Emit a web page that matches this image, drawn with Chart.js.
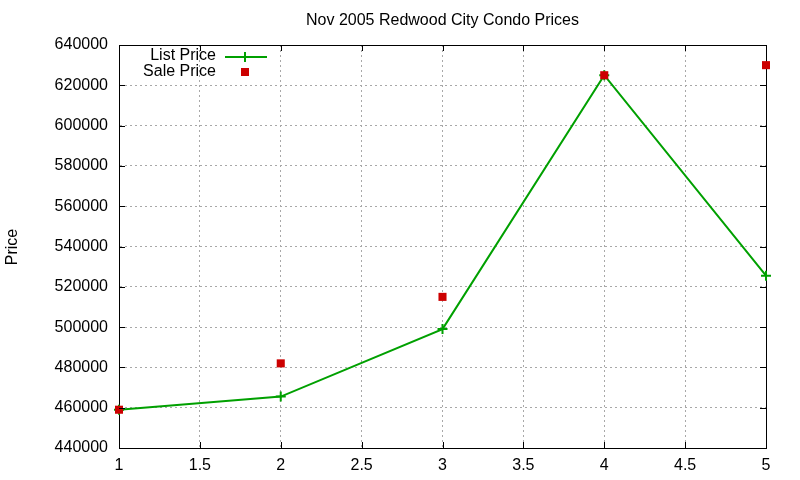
<!DOCTYPE html>
<html><head><meta charset="utf-8">
<script src="https://cdn.jsdelivr.net/npm/chart.js@4"></script>
<style>html,body{margin:0;padding:0;background:#fff}#c{display:block}</style>
</head><body>
<canvas id="c" width="800" height="480"></canvas>
<script>
const xValues = [1, 2, 3, 4, 5];
const listPrice = [459000, 465500, 499000, 625000, 525500];
const salePrice = [459000, 482000, 515000, 625000, 630000];
const chartTitle = 'Nov 2005 Redwood City Condo Prices';
const yTitle = 'Price';
const seriesNames = ['List Price', 'Sale Price'];

const FONT = '"Liberation Sans", Arial, sans-serif';
const GREEN = '#00a000', RED = '#cc0000';

const extras = {
  id: 'extras',
  afterDraw(chart) {
    const ctx = chart.ctx, a = chart.chartArea;
    const xs = chart.scales.x, ys = chart.scales.y;
    ctx.save();
    // inward ticks
    ctx.strokeStyle = '#000'; ctx.lineWidth = 1;
    ctx.beginPath();
    ys.ticks.forEach(t => {
      const y = Math.round(ys.getPixelForValue(t.value)) + 0.5;
      ctx.moveTo(a.left, y); ctx.lineTo(a.left + 6, y);
      ctx.moveTo(a.right, y); ctx.lineTo(a.right - 6, y);
    });
    xs.ticks.forEach(t => {
      const x = Math.round(xs.getPixelForValue(t.value)) + 0.5;
      ctx.moveTo(x, a.bottom); ctx.lineTo(x, a.bottom - 6);
      ctx.moveTo(x, a.top); ctx.lineTo(x, a.top + 6);
    });
    ctx.stroke();
    // title
    ctx.fillStyle = '#000';
    ctx.font = '16px ' + FONT;
    ctx.textAlign = 'center'; ctx.textBaseline = 'middle';
    ctx.fillText(chartTitle, (a.left + a.right) / 2, 21);
    // y title
    ctx.save();
    ctx.translate(13, 247); ctx.rotate(-Math.PI / 2);
    ctx.font = '16px ' + FONT;
    ctx.fillText(yTitle, 0, 0);
    ctx.restore();
    // legend
    ctx.font = '16px ' + FONT;
    ctx.textAlign = 'right';
    ctx.fillText(seriesNames[0], 216, 56);
    ctx.fillText(seriesNames[1], 216, 72);
    ctx.strokeStyle = GREEN; ctx.lineWidth = 2;
    ctx.beginPath();
    ctx.moveTo(225, 57); ctx.lineTo(267, 57);
    ctx.moveTo(245, 52); ctx.lineTo(245, 62);
    ctx.stroke();
    ctx.fillStyle = RED;
    ctx.fillRect(241, 68, 8, 8);
    ctx.restore();
  }
};

new Chart(document.getElementById('c'), {
  type: 'scatter',
  data: {
    datasets: [
      {
        label: seriesNames[1],
        data: xValues.map((x, i) => ({x, y: salePrice[i]})),
        showLine: false,
        pointStyle: 'rect',
        pointRadius: 5.7,
        pointHoverRadius: 5.7,
        backgroundColor: RED,
        borderColor: RED,
        borderWidth: 0,
        clip: false,
        order: 0
      },
      {
        label: seriesNames[0],
        data: xValues.map((x, i) => ({x, y: listPrice[i]})),
        showLine: true,
        borderColor: GREEN,
        backgroundColor: GREEN,
        borderWidth: 2,
        pointStyle: 'cross',
        pointRadius: 5,
        pointHoverRadius: 5,
        pointBorderWidth: 2,
        pointBorderColor: GREEN,
        tension: 0,
        clip: false,
        order: 1
      }
    ]
  },
  options: {
    responsive: false,
    animation: false,
    events: [],
    layout: { padding: { top: 45, right: 34, left: 0, bottom: 0 } },
    plugins: { legend: { display: false }, title: { display: false }, tooltip: { enabled: false } },
    scales: {
      x: {
        type: 'linear', min: 1, max: 5,
        afterFit: s => { s.height = 32; },
        ticks: { stepSize: 0.5, color: '#000', font: { family: FONT, size: 16 }, padding: 8, maxRotation: 0,
                 callback: v => String(v) },
        grid: { color: '#a8a8a8', lineWidth: 1, drawTicks: false, tickLength: 0 },
        border: { display: true, color: '#000', width: 1, dash: [2, 3] }
      },
      y: {
        min: 440000, max: 640000,
        afterFit: s => { s.width = 119; },
        ticks: { stepSize: 20000, color: '#000', font: { family: FONT, size: 16 }, padding: 11,
                 callback: v => String(v) },
        grid: { color: '#a8a8a8', lineWidth: 1, drawTicks: false, tickLength: 0 },
        border: { display: true, color: '#000', width: 1, dash: [2, 3] }
      }
    }
  },
  plugins: [extras, {
    id: 'frame',
    beforeDatasetsDraw(chart) {
      const ctx = chart.ctx, a = chart.chartArea;
      ctx.save();
      ctx.strokeStyle = '#000'; ctx.lineWidth = 1;
      ctx.strokeRect(Math.round(a.left) + 0.5, Math.round(a.top) + 0.5, Math.round(a.right - a.left), Math.round(a.bottom - a.top));
      ctx.restore();
    }
  }]
});
</script>
</body></html>
